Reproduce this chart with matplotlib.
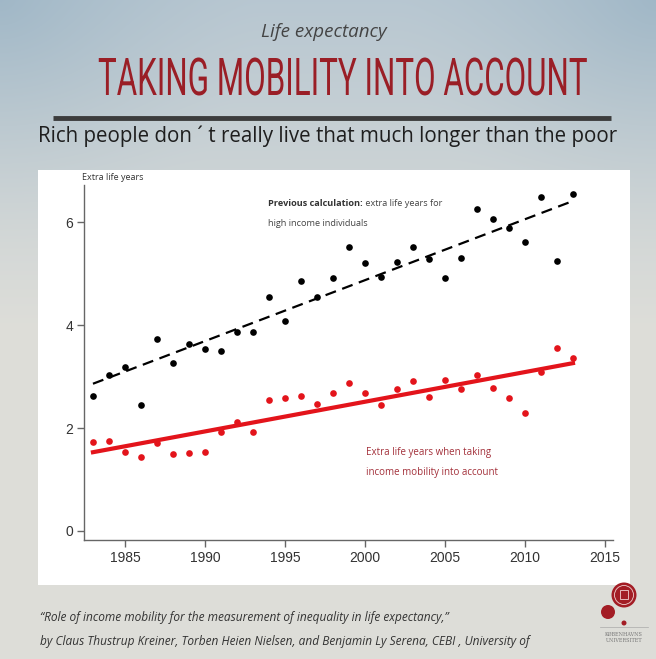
import numpy as np
import matplotlib
matplotlib.use("Agg")
import matplotlib.pyplot as plt
from matplotlib.patches import Rectangle, Circle
from matplotlib.patheffects import AbstractPathEffect
from matplotlib.transforms import Affine2D

# data
years = list(range(1983, 2014))
rich_prev = [2.62, 3.03, 3.18, 2.45, 3.73, 3.26, 3.63, 3.53, 3.49, 3.86,
             3.86, 4.54, 4.08, 4.85, 4.54, 4.91, 5.51, 5.20, 4.93, 5.22,
             5.51, 5.28, 4.91, 5.31, 6.25, 6.06, 5.88, 5.62, 6.49, 5.24, 6.55]
rich_mob = [1.73, 1.75, 1.53, 1.44, 1.71, 1.50, 1.51, 1.53, 1.92, 2.12,
            1.92, 2.54, 2.58, 2.63, 2.46, 2.68, 2.87, 2.68, 2.45, 2.76,
            2.91, 2.60, 2.93, 2.76, 3.03, 2.78, 2.58, 2.29, 3.09, 3.55, 3.36]
fit_years = [1983, 2013]
prev_fit = [2.86, 6.41]
mob_fit = [1.53, 3.26]
xticks = [1985, 1990, 1995, 2000, 2005, 2010, 2015]
yticks = [0, 2, 4, 6]


class Stretch(AbstractPathEffect):
    """rescale a text around (cx, cy) in display px"""
    def __init__(self, sx, sy, cx, cy):
        super().__init__()
        self.sx, self.sy, self.cx, self.cy = sx, sy, cx, cy

    def draw_path(self, renderer, gc, tpath, affine, rgbFace=None):
        aff = affine + Affine2D().translate(-self.cx, -self.cy).scale(self.sx, self.sy) \
            .translate(self.cx, self.cy)
        renderer.draw_path(gc, tpath, aff, rgbFace)


W, H = 656, 659
fig = plt.figure(figsize=(W / 100, H / 100), dpi=100)

# background in pixel coords
bg = fig.add_axes([0, 0, 1, 1])
bg.set_xlim(0, W); bg.set_ylim(H, 0); bg.axis("off")
yy, xx = np.mgrid[0:H, 0:W]
top = np.array([0.72, 0.78, 0.82]); bot = np.array([0.87, 0.87, 0.85])
t = np.clip(yy / 330.0, 0, 1)[..., None]
img = top * (1 - t) + bot * t
d = np.minimum(np.hypot(xx, yy), np.hypot(W - xx, yy)) / 260.0
v = np.clip(1 - d, 0, 1)[..., None] ** 1.5
img = img * (1 - 0.3 * v) + np.array([0.42, 0.58, 0.69]) * 0.3 * v
bg.imshow(img, extent=(0, W, H, 0), aspect="auto", zorder=0)
bg.add_patch(Rectangle((38, 170), 592, 415, facecolor="white", edgecolor="none", zorder=1))

bg.text(324, 32, "Life expectancy", ha="center", va="center", fontsize=13.5,
        style="italic", family="Open Sans", color="#444444", zorder=2)
title = bg.text(343, 95, "TAKING MOBILITY INTO ACCOUNT", ha="center", va="baseline",
                fontsize=26, family="Roboto", weight="normal", color="#9a1e26", zorder=2)
bg.plot([53, 611], [118, 118], color="#3c3c3c", lw=3.5, zorder=2, solid_capstyle="butt")
bg.text(328, 136, "Rich people don \u00b4 t really live that much longer than the poor",
        ha="center", va="center", fontsize=14.8, family="Open Sans", color="#1e1e1e", zorder=2)

# footer
bg.text(40, 618, "\u201cRole of income mobility for the measurement of inequality in life expectancy,\u201d",
        ha="left", va="center", fontsize=8.6, style="italic", family="Open Sans", color="#333333", zorder=2)
bg.text(40, 642, "by Claus Thustrup Kreiner, Torben Heien Nielsen, and Benjamin Ly Serena, CEBI , University of",
        ha="left", va="center", fontsize=8.6, style="italic", family="Open Sans", color="#333333", zorder=2)

# logo
bg.add_patch(Circle((624, 595), 12.5, facecolor="#a31d25", edgecolor="none", zorder=2))
bg.add_patch(Circle((624, 595), 9.5, facecolor="none", edgecolor="#f0d0d0", lw=0.6, zorder=3))
bg.add_patch(Rectangle((620, 590), 8, 9, facecolor="none", edgecolor="#f0d0d0", lw=0.6, zorder=3))
bg.add_patch(Circle((608, 612), 7, facecolor="#a31d25", edgecolor="none", zorder=2))
bg.add_patch(Circle((624, 623), 2.5, facecolor="#a31d25", edgecolor="none", zorder=2))
bg.plot([600, 648], [627, 627], color="#aaaaaa", lw=0.5, zorder=2)
bg.text(624, 634, "K\u00d8BENHAVNS", ha="center", va="center", fontsize=3.5, family="DejaVu Serif", color="#777777", zorder=2)
bg.text(624, 641, "UNIVERSITET", ha="center", va="center", fontsize=3.5, family="DejaVu Serif", color="#777777", zorder=2)

# chart
ax = fig.add_axes([84 / W, (H - 540) / H, (613 - 84) / W, (540 - 185) / H])
ax.set_facecolor("none")
ax.plot(fit_years, prev_fit, color="black", lw=1.6, dashes=(5, 3))
ax.plot(fit_years, mob_fit, color="#e3141b", lw=3)
ax.plot(years, rich_prev, "o", color="black", ms=4.8, mec="none")
ax.plot(years, rich_mob, "o", color="#e3141b", ms=4.8, mec="none")

ax.set_xlim(1982.44, 2015.5)
ax.set_ylim(-0.175, 6.72)
ax.set_xticks(xticks); ax.set_yticks(yticks)
for s in ["top", "right"]:
    ax.spines[s].set_visible(False)
for s in ["left", "bottom"]:
    ax.spines[s].set_color("#666666"); ax.spines[s].set_linewidth(1)
ax.tick_params(direction="out", length=5, width=1, color="#666666",
               labelsize=10, labelcolor="#333333", pad=3)
for lab in ax.get_xticklabels() + ax.get_yticklabels():
    lab.set_family("Liberation Sans")

bg.text(82, 178, "Extra life years", ha="left", va="center", fontsize=6.5,
        family="Open Sans", color="#333333", zorder=3)
t1 = bg.text(268, 203, "Previous calculation:", ha="left", va="center", fontsize=6.6,
             family="Open Sans", weight="bold", color="#333333", zorder=3)
bg.annotate(" extra life years for", xy=(1, 0.5), xycoords=t1, ha="left", va="center",
            fontsize=6.6, family="Open Sans", color="#444444", zorder=3)
bg.text(268, 224, "high income individuals", ha="left", va="center", fontsize=6.6,
        family="Open Sans", color="#444444", zorder=3)
bg.text(366, 452, "Extra life years when taking", ha="left", va="center", fontsize=7.0,
        family="Open Sans", color="#a3303a", zorder=3)
bg.text(366, 472, "income mobility into account", ha="left", va="center", fontsize=7.0,
        family="Open Sans", color="#a3303a", zorder=3)

# narrow and heighten the title to match the condensed headline (490 px wide, 37 px caps)
fig.canvas.draw()
tw = title.get_window_extent().width
cap = 0.711 * 26 * 100 / 72
title.set_path_effects([Stretch(490.0 / tw, 37.0 / cap, 343, H - 95)])

fig.savefig("out.png", dpi=100)
